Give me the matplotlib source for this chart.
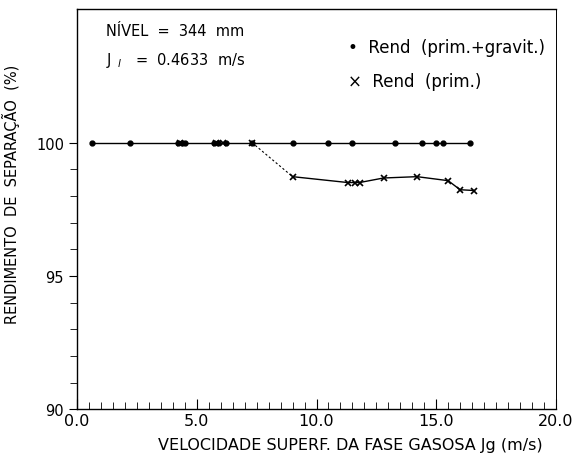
import numpy as np
import matplotlib.pyplot as plt
from matplotlib.ticker import MultipleLocator, FixedLocator

# Rend (prim.+gravit.) - dots
jg_pg = [0.6, 2.2, 4.2, 4.4, 4.5, 5.7, 5.9, 6.2, 7.3, 9.0, 10.5, 11.5, 13.3, 14.4, 15.0, 15.3, 16.4]
rend_pg = [100.0, 100.0, 100.0, 100.0, 100.0, 100.0, 100.0, 100.0, 100.0, 100.0, 100.0, 100.0, 100.0, 100.0, 100.0, 100.0, 100.0]

# Rend (prim.) - crosses
jg_p = [4.3, 5.8, 6.1, 7.3, 9.0, 11.3, 11.6, 11.8, 12.8, 14.2, 15.5, 16.0, 16.6]
rend_p = [100.0, 100.0, 100.0, 100.0, 98.72, 98.5, 98.5, 98.5, 98.67, 98.72, 98.57, 98.23, 98.2]

x_ticks = [0, 5, 10, 15, 20]
x_labels = ['0.0', '5.0', '10.0', '15.0', '20.0']
y_ticks = [90, 95, 100]

plt.rcParams['font.family'] = 'DejaVu Sans'
fig, ax = plt.subplots(figsize=(5.76, 4.64), dpi=100)
fig.subplots_adjust(left=0.134, right=0.965, top=0.978, bottom=0.116)

ax.plot(jg_pg, rend_pg, color='black', lw=1.0, marker='o', ms=3.5)
ax.plot(jg_p[:4], rend_p[:4], color='black', lw=0, marker='x', ms=4, mew=1.2)
ax.plot(jg_p[3:5], rend_p[3:5], color='black', lw=0.8, ls=(0, (2, 2)))
ax.plot(jg_p[4:], rend_p[4:], color='black', lw=1.0, marker='x', ms=4, mew=1.2)

ax.set_xlim(0, 20)
ax.set_ylim(90, 105)
ax.set_xticks(x_ticks)
ax.set_xticklabels(x_labels)
ax.xaxis.set_minor_locator(MultipleLocator(0.5))
ax.set_yticks(y_ticks)
ax.yaxis.set_minor_locator(FixedLocator(np.arange(90, 101, 1)))
ax.tick_params(axis='x', which='both', direction='in', labelsize=11.5, pad=3)
ax.tick_params(axis='x', which='major', length=7)
ax.tick_params(axis='x', which='minor', length=5)
ax.tick_params(axis='y', which='both', direction='out', labelsize=10.5)
ax.tick_params(axis='y', which='major', length=6)
ax.tick_params(axis='y', which='minor', length=5)

for s in ax.spines.values():
    s.set_linewidth(1.0)
ax.spines['right'].set_linestyle((0, (4, 1)))
ax.spines['right'].set_linewidth(0.7)

ax.set_xlabel('VELOCIDADE SUPERF. DA FASE GASOSA Jg (m/s)', fontsize=11.5, labelpad=0)
ax.xaxis.set_label_coords(0.57, -0.07)
ax.set_ylabel('RENDIMENTO  DE  SEPARAÇÃO  (%)', fontsize=10.5)
ax.yaxis.set_label_coords(-0.12, 0.54)

ax.text(1.2, 104.2, 'NÍVEL  =  344  mm', fontsize=10.5, va='center')
ax.text(1.2, 103.1, r'J$_{\ \ l}$   =  0.4633  m/s', fontsize=10.5, va='center')
ax.text(11.3, 103.6, '•  Rend  (prim.+gravit.)', fontsize=12, va='center')
ax.text(11.3, 102.3, '×  Rend  (prim.)', fontsize=12, va='center')

plt.savefig('out.png', dpi=100)
